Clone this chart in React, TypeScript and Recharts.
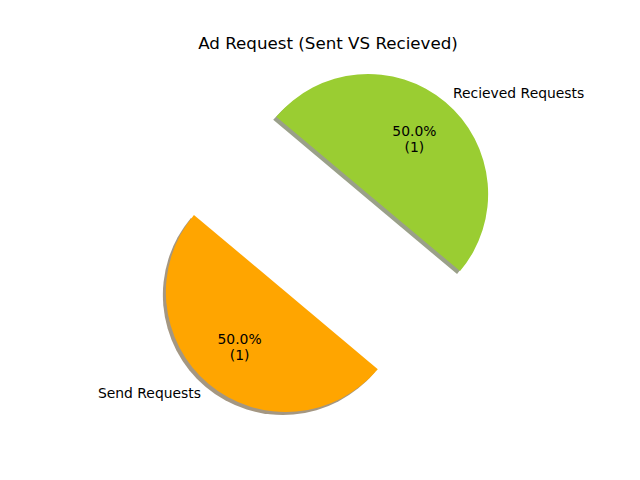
import React from 'react';
import { PieChart, Pie, Cell } from 'recharts';

const categories = ['Send Requests', 'Recieved Requests'];
const counts = [1, 1];
const colors = ['#FFA500', '#9ACD32'];
const shadowColors = ['#a49782', '#9aa089'];
const title = 'Ad Request (Sent VS Recieved)';

const data = categories.map((name, i) => ({ name, value: counts[i] }));

const W = 640;
const H = 480;
const CX = 327;
const CY = 243;
const R = 120;
const EXPLODE = 64;
const START = 140;
const SHADOW_DX = -3;
const SHADOW_DY = 3;
const RAD = Math.PI / 180;
const FONT = '"DejaVu Sans", sans-serif';

const total = counts.reduce((a, b) => a + b, 0);
const midAngles = counts.map(
  (v, i) => START + (360 * (counts.slice(0, i).reduce((a, b) => a + b, 0) + v / 2)) / total
);
const centers = midAngles.map((m) => ({
  x: CX + EXPLODE * Math.cos(m * RAD),
  y: CY - EXPLODE * Math.sin(m * RAD),
}));

const makeLabel = (visible: number) => (props: any) => {
  const { cx, cy, midAngle, outerRadius, index, percent, value } = props;
  if (index !== visible) return <g key={`l-${index}`} />;
  const cos = Math.cos(midAngle * RAD);
  const sin = Math.sin(midAngle * RAD);
  const lx = cx + outerRadius * 1.1 * cos;
  const ly = cy - outerRadius * 1.1 * sin;
  const px = cx + outerRadius * 0.6 * cos;
  const py = cy - outerRadius * 0.6 * sin;
  return (
    <g key={`l-${index}`}>
      <text
        x={lx}
        y={ly}
        textAnchor={lx > cx ? 'start' : 'end'}
        dominantBaseline="central"
        fontFamily={FONT}
        fontSize={13.9}
        fill="#000"
      >
        {categories[index]}
      </text>
      <text x={px} y={py} textAnchor="middle" fontFamily={FONT} fontSize={13.9} fill="#000">
        <tspan x={px} y={py - 8.3} dominantBaseline="central">{`${(percent * 100).toFixed(1)}%`}</tspan>
        <tspan x={px} y={py + 8.3} dominantBaseline="central">{`(${value})`}</tspan>
      </text>
    </g>
  );
};

export default function App() {
  return (
    <div style={{ position: 'absolute', left: 0, top: 0, width: W, height: H, background: '#fff' }}>
      <div
        style={{
          position: 'absolute',
          left: 0,
          top: 33,
          width: 656,
          textAlign: 'center',
          fontFamily: FONT,
          fontSize: 16.7,
          lineHeight: '20px',
          color: '#000',
          zIndex: 2,
        }}
      >
        {title}
      </div>
      <PieChart width={W} height={H} margin={{ top: 0, right: 0, bottom: 0, left: 0 }}>
        {categories.map((_, vi) => (
          <Pie
            key={`s-${vi}`}
            data={data}
            dataKey="value"
            nameKey="name"
            cx={centers[vi].x + SHADOW_DX}
            cy={centers[vi].y + SHADOW_DY}
            outerRadius={R}
            startAngle={START}
            endAngle={START + 360}
            stroke="none"
            labelLine={false}
            isAnimationActive={false}
          >
            {data.map((_, i) => (
              <Cell key={i} fill={i === vi ? shadowColors[i] : 'none'} />
            ))}
          </Pie>
        ))}
        {categories.map((_, vi) => (
          <Pie
            key={`p-${vi}`}
            data={data}
            dataKey="value"
            nameKey="name"
            cx={centers[vi].x}
            cy={centers[vi].y}
            outerRadius={R}
            startAngle={START}
            endAngle={START + 360}
            stroke="none"
            labelLine={false}
            label={makeLabel(vi)}
            isAnimationActive={false}
          >
            {data.map((_, i) => (
              <Cell key={i} fill={i === vi ? colors[i] : 'none'} />
            ))}
          </Pie>
        ))}
      </PieChart>
    </div>
  );
}
